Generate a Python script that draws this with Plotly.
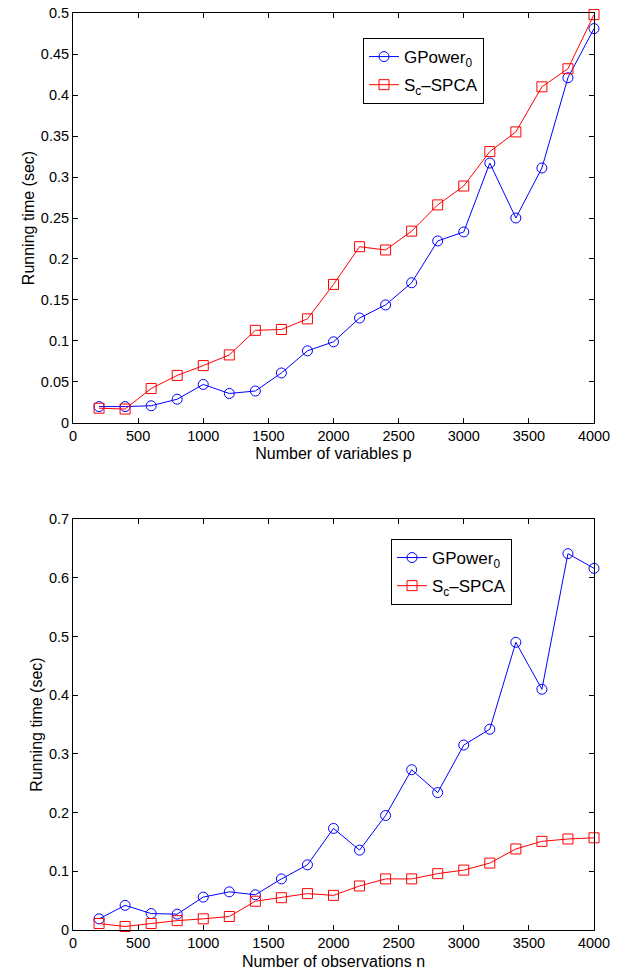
import plotly.graph_objects as go
from plotly.subplots import make_subplots

x_vals = [200, 400, 600, 800, 1000, 1200, 1400, 1600, 1800, 2000,
          2200, 2400, 2600, 2800, 3000, 3200, 3400, 3600, 3800, 4000]

top_gpower = [0.020, 0.020, 0.021, 0.029, 0.047, 0.036, 0.039, 0.061, 0.088, 0.099,
              0.128, 0.144, 0.171, 0.222, 0.233, 0.317, 0.250, 0.311, 0.421, 0.481]
top_spca = [0.018, 0.017, 0.042, 0.058, 0.070, 0.083, 0.113, 0.114, 0.127, 0.169,
            0.215, 0.211, 0.234, 0.266, 0.289, 0.331, 0.355, 0.410, 0.432, 0.498]

bot_gpower = [0.019, 0.042, 0.028, 0.027, 0.056, 0.065, 0.060, 0.087, 0.111, 0.173,
              0.136, 0.195, 0.273, 0.234, 0.315, 0.342, 0.490, 0.410, 0.641, 0.616]
bot_spca = [0.011, 0.006, 0.011, 0.016, 0.019, 0.023, 0.049, 0.055, 0.062, 0.059,
            0.075, 0.087, 0.087, 0.096, 0.102, 0.114, 0.138, 0.151, 0.155, 0.157]

name_g = "GPower<sub>0</sub>"
name_s = "S<sub>c</sub>\u2013SPCA"

FONT = "Liberation Sans, Arial, Helvetica, sans-serif"

fig = make_subplots(rows=2, cols=1, vertical_spacing=0.1)

def add(row, y, name, color, symbol, legend, group):
    fig.add_trace(go.Scatter(
        x=x_vals, y=y, mode="lines+markers", name=name,
        line=dict(color=color, width=1),
        marker=dict(symbol=symbol, size=10, color=color,
                    line=dict(color=color, width=1)),
        cliponaxis=False, legend=legend, legendgroup=group), row=row, col=1)

add(1, top_gpower, name_g, "#0000ff", "circle-open", "legend", "a1")
add(1, top_spca, name_s, "#ff0000", "square-open", "legend", "b1")
add(2, bot_gpower, name_g, "#0000ff", "circle-open", "legend2", "a2")
add(2, bot_spca, name_s, "#ff0000", "square-open", "legend2", "b2")

axis_common = dict(showline=True, linecolor="black", linewidth=1, mirror="allticks",
                   ticks="inside", ticklen=5, tickcolor="black", showgrid=False,
                   zeroline=False, automargin=False,
                   tickfont=dict(size=14.5, color="black"))

fig.update_xaxes(range=[0, 4000], dtick=500, **axis_common)
fig.update_yaxes(**axis_common)

fig.update_xaxes(title=dict(text="Number of variables p", font=dict(size=16), standoff=4), row=1, col=1)
fig.update_xaxes(title=dict(text="Number of observations n", font=dict(size=16), standoff=5), row=2, col=1)
fig.update_yaxes(range=[0, 0.5], dtick=0.05, row=1, col=1,
                 title=dict(text="Running time (sec)", font=dict(size=16), standoff=2))
fig.update_yaxes(range=[0, 0.7], dtick=0.1, row=2, col=1,
                 title=dict(text="Running time (sec)", font=dict(size=16), standoff=2))

fig.update_layout(
    width=627, height=973,
    margin=dict(l=73, r=33, t=13, b=43),
    paper_bgcolor="white", plot_bgcolor="white",
    font=dict(family=FONT, size=14.5, color="black"),
    xaxis=dict(domain=[0, 1]),
    yaxis=dict(domain=[0.5529, 1.0]),
    xaxis2=dict(domain=[0, 1]),
    yaxis2=dict(domain=[0.0, 0.4482]),
    legend=dict(x=0.5566, y=0.9727, xanchor="left", yanchor="top",
                bgcolor="white", bordercolor="black", borderwidth=1,
                font=dict(size=17), tracegroupgap=3),
    legend2=dict(x=0.6104, y=0.4264, xanchor="left", yanchor="top",
                 bgcolor="white", bordercolor="black", borderwidth=1,
                 font=dict(size=17), tracegroupgap=3),
)

fig.write_html("out.html", config={"displayModeBar": False},
               post_script="document.body.style.margin='0px';")
